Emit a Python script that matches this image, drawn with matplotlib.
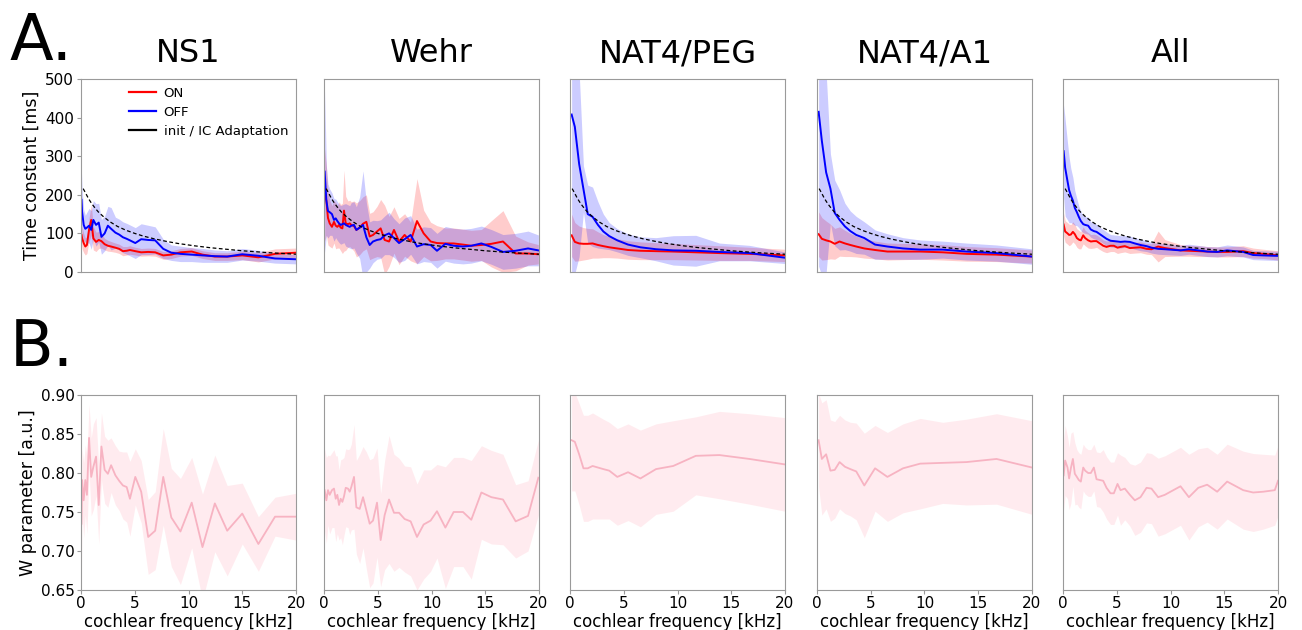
import numpy as np
import matplotlib
matplotlib.use('Agg')
import matplotlib.pyplot as plt
from matplotlib.lines import Line2D

# panel titles
titles = ['NS1', 'Wehr', 'NAT4/PEG', 'NAT4/A1', 'All']

# cochlear frequency grids [kHz]
freq_ns1 = [0.05, 0.1, 0.25, 0.4, 0.55, 0.75, 0.95, 1.15, 1.4, 1.65, 1.9, 2.2, 2.5, 2.8, 3.2, 3.55, 3.9,
            4.25, 4.55, 5.05, 5.6, 6.25, 6.9, 7.65, 8.4, 9.25, 10.3, 11.3, 12.45, 13.6, 15.0, 16.5, 18.05, 20.0]
freq_wehr = [0.06, 0.22, 0.37, 0.53, 0.74, 0.93, 1.09, 1.24, 1.4, 1.55, 1.71, 1.86, 2.02, 2.23, 2.39, 2.54,
             2.79, 3.01, 3.32, 3.63, 3.94, 4.25, 4.56, 4.93, 5.27, 5.64, 6.05, 6.51, 6.98, 7.5, 8.06, 8.65,
             9.27, 9.92, 10.51, 11.29, 12.06, 12.93, 13.7, 14.64, 15.57, 16.65, 17.83, 18.98, 19.94]
freq_nat4 = [0.15, 0.45, 0.85, 1.25, 1.65, 2.1, 2.6, 3.1, 3.65, 4.4, 5.4, 6.55, 8.0, 9.6, 11.7, 13.9, 16.7, 20.0]
freq_all = [0.06, 0.2, 0.42, 0.57, 0.73, 0.92, 1.1, 1.29, 1.47, 1.66, 1.88, 2.06, 2.34, 2.59, 2.87, 3.12,
            3.43, 3.74, 4.05, 4.42, 4.73, 5.07, 5.35, 5.75, 6.22, 6.68, 7.21, 7.77, 8.23, 8.85, 9.47, 10.93,
            11.71, 12.58, 13.41, 14.34, 15.27, 16.76, 17.69, 18.62, 19.7, 20.0]

# IC adaptation reference curve [ms]
adapt_freq = [0.2, 0.4, 0.7, 1.0, 1.3, 1.6, 2.1, 2.7, 3.4, 4.2, 5.0, 5.8, 6.8, 8.0, 9.0, 10.5, 12.0, 13.5,
              15.0, 17.5, 20.0]
adapt_tau = [216, 206, 190, 177, 166, 156, 143, 130, 118, 108, 100, 93, 86, 79, 74, 68, 63, 59, 55, 50, 46]

# time constants, ON / OFF [ms] with spread
on_ns1 = [96, 88, 75, 66, 70, 110, 135, 87, 78, 83, 80, 72, 68, 66, 63, 60, 54, 55, 57, 54, 51, 52, 51, 43,
          45, 51, 53, 45, 40, 40, 43, 38, 47, 50]
on_ns1_err = [25, 28, 25, 22, 22, 30, 40, 30, 25, 22, 18, 15, 14, 13, 12, 12, 12, 11, 11, 10, 10, 10, 10, 10,
              10, 10, 10, 10, 10, 10, 11, 12, 13, 12]
off_ns1 = [187, 156, 122, 112, 115, 120, 109, 135, 122, 128, 91, 100, 120, 112, 102, 97, 90, 86, 82, 75, 85,
           83, 82, 60, 50, 47, 45, 43, 41, 40, 46, 42, 35, 33]
off_ns1_err = [70, 60, 40, 35, 40, 45, 50, 50, 55, 50, 45, 45, 50, 55, 40, 40, 40, 40, 40, 40, 40, 38, 35, 25,
               20, 20, 18, 18, 16, 15, 15, 14, 12, 12]

on_wehr = [200, 185, 140, 126, 117, 130, 120, 117, 122, 115, 113, 159, 126, 124, 126, 122, 119, 109, 115, 125,
           130, 92, 96, 105, 113, 83, 79, 109, 79, 96, 79, 132, 100, 79, 75, 74, 74, 71, 68, 70, 73, 79, 48,
           48, 46]
on_wehr_err = [120, 90, 70, 60, 55, 55, 60, 55, 60, 60, 65, 105, 70, 60, 60, 60, 65, 70, 70, 70, 70, 60, 60,
               65, 75, 90, 65, 60, 60, 55, 50, 110, 60, 50, 45, 40, 40, 40, 40, 40, 60, 80, 45, 30, 25]
off_wehr = [260, 185, 158, 155, 150, 135, 139, 132, 126, 122, 124, 126, 122, 119, 117, 120, 122, 109, 115,
            122, 90, 70, 79, 83, 85, 95, 100, 88, 75, 85, 96, 66, 72, 70, 55, 73, 68, 66, 68, 74, 65, 52, 55,
            61, 56]
off_wehr_err = [210, 90, 70, 60, 55, 55, 50, 50, 50, 50, 50, 50, 55, 55, 55, 60, 60, 60, 80, 140, 90, 60, 55,
                50, 50, 50, 55, 50, 50, 55, 50, 45, 45, 45, 45, 45, 45, 45, 45, 45, 45, 45, 45, 45, 40]

on_peg = [95, 78, 74, 73, 73, 74, 70, 67, 64, 61, 57, 55, 54, 53, 51, 49, 47, 43]
on_peg_err = [55, 50, 45, 42, 40, 38, 34, 30, 27, 25, 24, 23, 22, 21, 20, 19, 17, 16]
off_peg = [408, 376, 280, 215, 150, 143, 122, 105, 93, 82, 71, 64, 59, 56, 55, 52, 49, 37]
off_peg_err = [420, 380, 240, 60, 75, 77, 60, 45, 35, 30, 28, 27, 30, 38, 40, 23, 20, 15]

on_a1 = [98, 86, 82, 79, 73, 79, 74, 70, 66, 61, 57, 53, 53, 53, 51, 47, 45, 40]
on_a1_err = [58, 55, 50, 45, 40, 38, 34, 30, 27, 25, 23, 22, 21, 20, 20, 19, 18, 17]
off_a1 = [415, 340, 258, 216, 153, 135, 118, 106, 96, 88, 71, 66, 61, 58, 58, 53, 49, 40]
off_a1_err = [400, 350, 260, 90, 85, 78, 60, 52, 48, 42, 38, 33, 28, 25, 22, 22, 21, 20]

on_all = [123, 105, 100, 96, 97, 104, 98, 88, 84, 82, 95, 88, 82, 79, 80, 80, 74, 68, 65, 68, 68, 63, 65, 67,
          62, 63, 64, 60, 59, 66, 62, 56, 55, 54, 53, 52, 52, 54, 49, 47, 44, 43]
on_all_err = [30, 28, 28, 28, 26, 26, 25, 24, 24, 22, 22, 20, 20, 18, 18, 16, 16, 15, 15, 15, 15, 15, 15, 15,
              14, 14, 14, 14, 14, 40, 22, 15, 14, 14, 13, 13, 13, 14, 13, 12, 12, 12]
off_all = [313, 270, 235, 212, 198, 185, 166, 155, 143, 132, 124, 122, 120, 110, 106, 104, 98, 92, 86, 81, 80,
           79, 78, 79, 78, 74, 70, 67, 63, 60, 59, 56, 59, 56, 53, 52, 56, 52, 44, 43, 42, 42]
off_all_err = [120, 125, 100, 85, 70, 60, 45, 35, 28, 25, 22, 22, 22, 20, 20, 20, 18, 18, 18, 16, 16, 16, 16,
               15, 15, 15, 15, 14, 14, 14, 14, 13, 13, 13, 13, 13, 14, 13, 12, 12, 12, 12]

# W parameter [a.u.] with spread
w_ns1 = [0.735, 0.791, 0.765, 0.791, 0.772, 0.845, 0.795, 0.808, 0.821, 0.759, 0.834, 0.804, 0.799, 0.810,
         0.797, 0.790, 0.784, 0.782, 0.767, 0.795, 0.776, 0.718, 0.726, 0.795, 0.743, 0.725, 0.762, 0.705,
         0.761, 0.726, 0.748, 0.709, 0.744, 0.744]
w_ns1_err = [0.05, 0.04, 0.048, 0.045, 0.05, 0.043, 0.05, 0.055, 0.05, 0.05, 0.043, 0.043, 0.043, 0.035,
             0.038, 0.038, 0.043, 0.045, 0.048, 0.036, 0.04, 0.048, 0.05, 0.062, 0.063, 0.068, 0.058, 0.068,
             0.062, 0.058, 0.039, 0.035, 0.025, 0.03]
w_wehr = [0.778, 0.765, 0.778, 0.772, 0.778, 0.780, 0.767, 0.772, 0.759, 0.767, 0.763, 0.770, 0.781, 0.780,
          0.776, 0.782, 0.795, 0.756, 0.754, 0.769, 0.752, 0.735, 0.739, 0.762, 0.714, 0.746, 0.766, 0.749,
          0.749, 0.741, 0.738, 0.718, 0.734, 0.739, 0.751, 0.730, 0.750, 0.750, 0.740, 0.775, 0.769, 0.766,
          0.738, 0.745, 0.794]
w_wehr_err = [0.053, 0.055, 0.045, 0.05, 0.048, 0.05, 0.055, 0.05, 0.045, 0.05, 0.055, 0.05, 0.05, 0.05,
              0.055, 0.055, 0.067, 0.06, 0.07, 0.065, 0.075, 0.082, 0.08, 0.07, 0.06, 0.07, 0.082, 0.075,
              0.07, 0.068, 0.07, 0.068, 0.07, 0.065, 0.06, 0.078, 0.07, 0.07, 0.076, 0.06, 0.06, 0.058,
              0.047, 0.045, 0.048]
w_peg = [0.842, 0.840, 0.824, 0.806, 0.806, 0.809, 0.807, 0.805, 0.803, 0.795, 0.801, 0.793, 0.805, 0.809,
         0.822, 0.823, 0.818, 0.811]
w_peg_err = [0.065, 0.063, 0.065, 0.068, 0.068, 0.068, 0.066, 0.064, 0.062, 0.062, 0.062, 0.062, 0.058,
             0.058, 0.05, 0.056, 0.058, 0.06]
w_a1 = [0.842, 0.818, 0.824, 0.803, 0.804, 0.814, 0.808, 0.805, 0.802, 0.784, 0.806, 0.795, 0.806, 0.812,
        0.813, 0.814, 0.818, 0.807]
w_a1_err = [0.06, 0.072, 0.07, 0.065, 0.062, 0.06, 0.06, 0.06, 0.062, 0.067, 0.055, 0.057, 0.057, 0.058,
            0.052, 0.055, 0.058, 0.06]
w_all = [0.797, 0.816, 0.807, 0.793, 0.806, 0.818, 0.799, 0.795, 0.791, 0.789, 0.807, 0.803, 0.800, 0.800,
         0.807, 0.792, 0.791, 0.790, 0.781, 0.774, 0.774, 0.786, 0.778, 0.780, 0.772, 0.765, 0.769, 0.781,
         0.780, 0.769, 0.772, 0.783, 0.769, 0.781, 0.785, 0.776, 0.789, 0.778, 0.775, 0.776, 0.778, 0.790]
w_all_err = [0.045, 0.045, 0.04, 0.04, 0.045, 0.035, 0.04, 0.035, 0.035, 0.035, 0.03, 0.03, 0.03, 0.03,
             0.03, 0.035, 0.035, 0.04, 0.04, 0.04, 0.04, 0.04, 0.045, 0.04, 0.04, 0.045, 0.045, 0.045, 0.045,
             0.05, 0.05, 0.05, 0.055, 0.05, 0.048, 0.048, 0.048, 0.05, 0.05, 0.048, 0.045, 0.045]

datasets = [
    (freq_ns1, on_ns1, on_ns1_err, off_ns1, off_ns1_err, w_ns1, w_ns1_err),
    (freq_wehr, on_wehr, on_wehr_err, off_wehr, off_wehr_err, w_wehr, w_wehr_err),
    (freq_nat4, on_peg, on_peg_err, off_peg, off_peg_err, w_peg, w_peg_err),
    (freq_nat4, on_a1, on_a1_err, off_a1, off_a1_err, w_a1, w_a1_err),
    (freq_all, on_all, on_all_err, off_all, off_all_err, w_all, w_all_err),
]

fig = plt.figure(figsize=(13.02, 6.30), dpi=100)
W, H = 1302, 630
lefts = [81, 324, 570, 817, 1063]
pw = 215
spine_col = '#9a9a9a'

for i, (f, on, on_e, off, off_e, w, w_e) in enumerate(datasets):
    f = np.array(f)
    on, on_e = np.array(on), np.array(on_e)
    off, off_e = np.array(off), np.array(off_e)
    w, w_e = np.array(w), np.array(w_e)

    # top row: time constants
    ax = fig.add_axes([lefts[i] / W, 1 - 272 / H, pw / W, 193 / H])
    ax.fill_between(f, on - on_e, on + on_e, color='red', alpha=0.2, lw=0)
    ax.fill_between(f, off - off_e, off + off_e, color='blue', alpha=0.2, lw=0)
    ax.plot(f, on, color='red', lw=1.4)
    ax.plot(f, off, color='blue', lw=1.4)
    ax.plot(adapt_freq, adapt_tau, color='black', ls='--', lw=0.9, dashes=(3, 2))
    ax.set_xlim(0, 20)
    ax.set_ylim(0, 500)
    ax.set_xticks([])
    ax.set_title(titles[i], fontsize=23, pad=12)
    if i == 0:
        ax.set_yticks([0, 100, 200, 300, 400, 500])
        ax.set_ylabel('Time constant [ms]', fontsize=12.5, labelpad=3)
        handles = [Line2D([], [], color='red', lw=1.6),
                   Line2D([], [], color='blue', lw=1.6),
                   Line2D([], [], color='black', lw=1.6)]
        ax.legend(handles, ['ON', 'OFF', 'init / IC Adaptation'], loc='upper left',
                  bbox_to_anchor=(0.17, 1.02), frameon=False, fontsize=9.5,
                  handlelength=2.0, handletextpad=0.6, labelspacing=0.45)
    else:
        ax.set_yticks([])
    for s in ax.spines.values():
        s.set_color(spine_col)
    ax.tick_params(labelsize=11, color=spine_col, length=3, pad=2)

    # bottom row: W parameter
    bx = fig.add_axes([lefts[i] / W, 1 - 590 / H, pw / W, 195 / H])
    bx.fill_between(f, w - w_e, w + w_e, color='pink', alpha=0.3, lw=0)
    bx.plot(f, w, color='#f7b3c2', lw=1.3)
    bx.set_xlim(0, 20)
    bx.set_ylim(0.65, 0.90)
    bx.set_xticks([0, 5, 10, 15, 20])
    bx.set_xlabel('cochlear frequency [kHz]', fontsize=12, labelpad=1)
    if i == 0:
        bx.set_yticks([0.65, 0.70, 0.75, 0.80, 0.85, 0.90])
        bx.set_yticklabels(['0.65', '0.70', '0.75', '0.80', '0.85', '0.90'])
        bx.set_ylabel('W parameter [a.u.]', fontsize=12.5, labelpad=3)
    else:
        bx.set_yticks([])
    for s in bx.spines.values():
        s.set_color(spine_col)
    bx.tick_params(labelsize=11, color=spine_col, length=3, pad=1.5)

fig.text(10 / W, 1 - 60 / H, 'A.', fontsize=46, ha='left', va='baseline')
fig.text(10 / W, 1 - 366 / H, 'B.', fontsize=46, ha='left', va='baseline')

fig.savefig('out.png', dpi=100)
